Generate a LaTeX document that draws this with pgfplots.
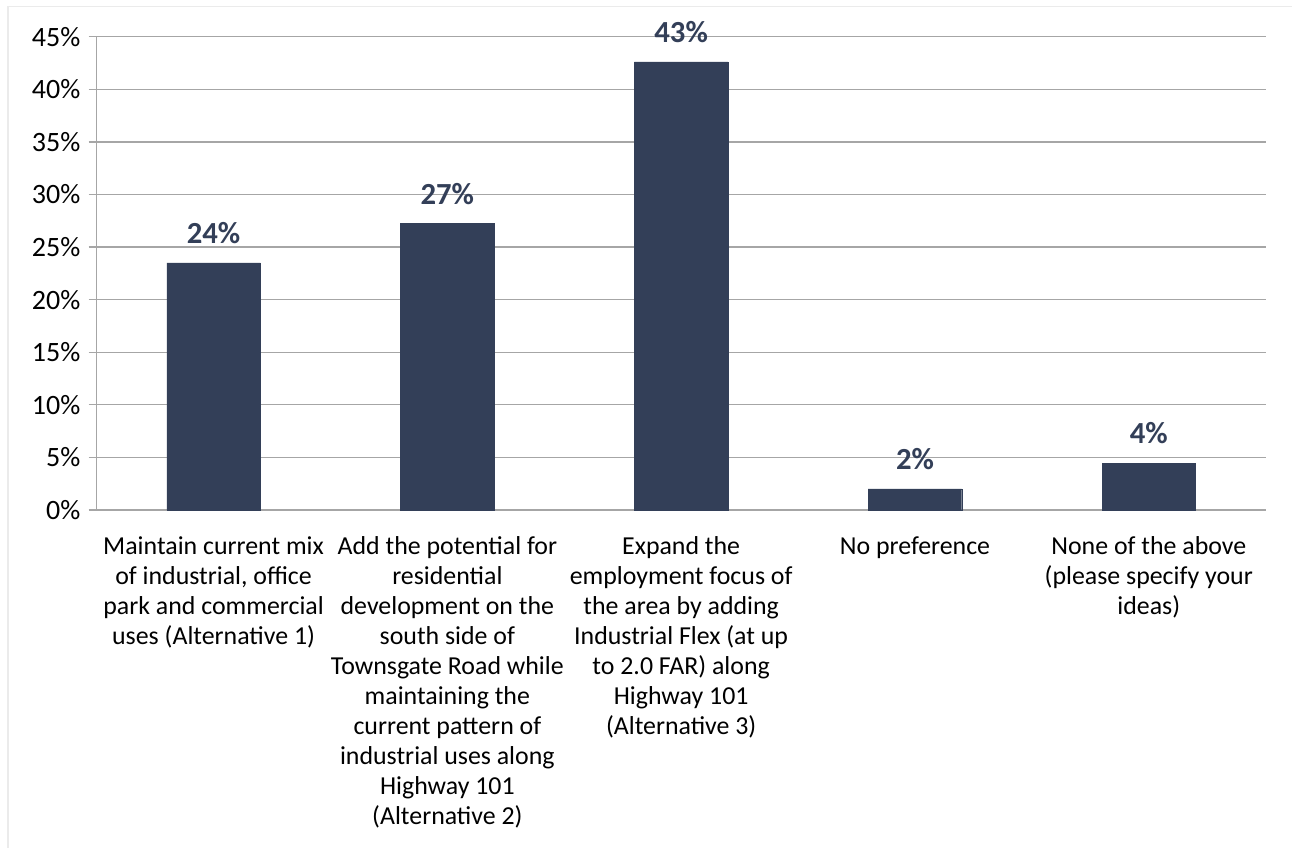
\documentclass[border=0pt]{standalone}
\usepackage{fontspec}
\setmainfont{Carlito}
\usepackage{pgfplots}
\usepackage{pgfplotstable}
\pgfplotsset{compat=1.18}
\definecolor{barnavy}{RGB}{51,63,88}
\definecolor{gridgray}{RGB}{166,166,166}
\definecolor{framegray}{RGB}{235,235,235}
\pgfplotstableread[col sep=comma]{
x,y,lab
0,23.5,24\%
1,27.25,27\%
2,42.6,43\%
3,2.0,2\%
4,4.44,4\%
}\datatable
\begin{document}
\begin{tikzpicture}
\path[use as bounding box] (0,0) rectangle (969pt,-636pt);
\draw[framegray, line width=1pt] (6pt,-640pt) -- (6pt,-5pt) -- (975pt,-5pt);
\begin{axis}[
  at={(72.5pt,-382.5pt)}, anchor=south west,
  scale only axis,
  width=876.75pt, height=355pt,
  xmin=-0.5, xmax=4.5, ymin=0, ymax=45,
  axis x line*=bottom, axis y line*=left,
  axis line style={gridgray, line width=1pt},
  clip=false,
  tick align=outside,
  ytick={0,5,...,45},
  yticklabels={0\%,5\%,10\%,15\%,20\%,25\%,30\%,35\%,40\%,45\%},
  ymajorgrids,
  grid style={gridgray, line width=1pt},
  major tick style={gridgray, line width=1pt},
  major tick length=6pt,
  xtick={0,1,2,3,4},
  x tick style={draw=none},
  minor xtick={-0.5,0.5,1.5,2.5,3.5,4.5},
  minor x tick style={gridgray, line width=1pt},
  minor tick length=6pt,
  xticklabels={
    {Maintain current mix\\of industrial, office\\park and commercial\\uses (Alternative 1)},
    {Add the potential for\\residential\\development on the\\south side of\\Townsgate Road while\\maintaining the\\current pattern of\\industrial uses along\\Highway 101\\(Alternative 2)},
    {Expand the\\employment focus of\\the area by adding\\Industrial Flex (at up\\to 2.0 FAR) along\\Highway 101\\(Alternative 3)},
    {No preference},
    {None of the above\\(please specify your\\ideas)}
  },
  xticklabel style={align=center, anchor=north, inner sep=0pt, yshift=-14pt,
    font=\fontsize{19.4pt}{22.5pt}\selectfont, text=black},
  yticklabel style={anchor=east, inner sep=0pt, xshift=-6pt,
    font=\fontsize{21pt}{24pt}\selectfont, text=black},
  nodes near coords,
  point meta=explicit symbolic,
  nodes near coords style={anchor=base, inner sep=0pt, yshift=14.5pt,
    font=\fontsize{23pt}{26pt}\selectfont\bfseries, text=barnavy},
]
\addplot[ybar, bar width=0.4, fill=barnavy, draw=barnavy, line width=0.3pt]
  table[x=x, y=y, meta=lab] {\datatable};
\end{axis}
\end{tikzpicture}
\end{document}
